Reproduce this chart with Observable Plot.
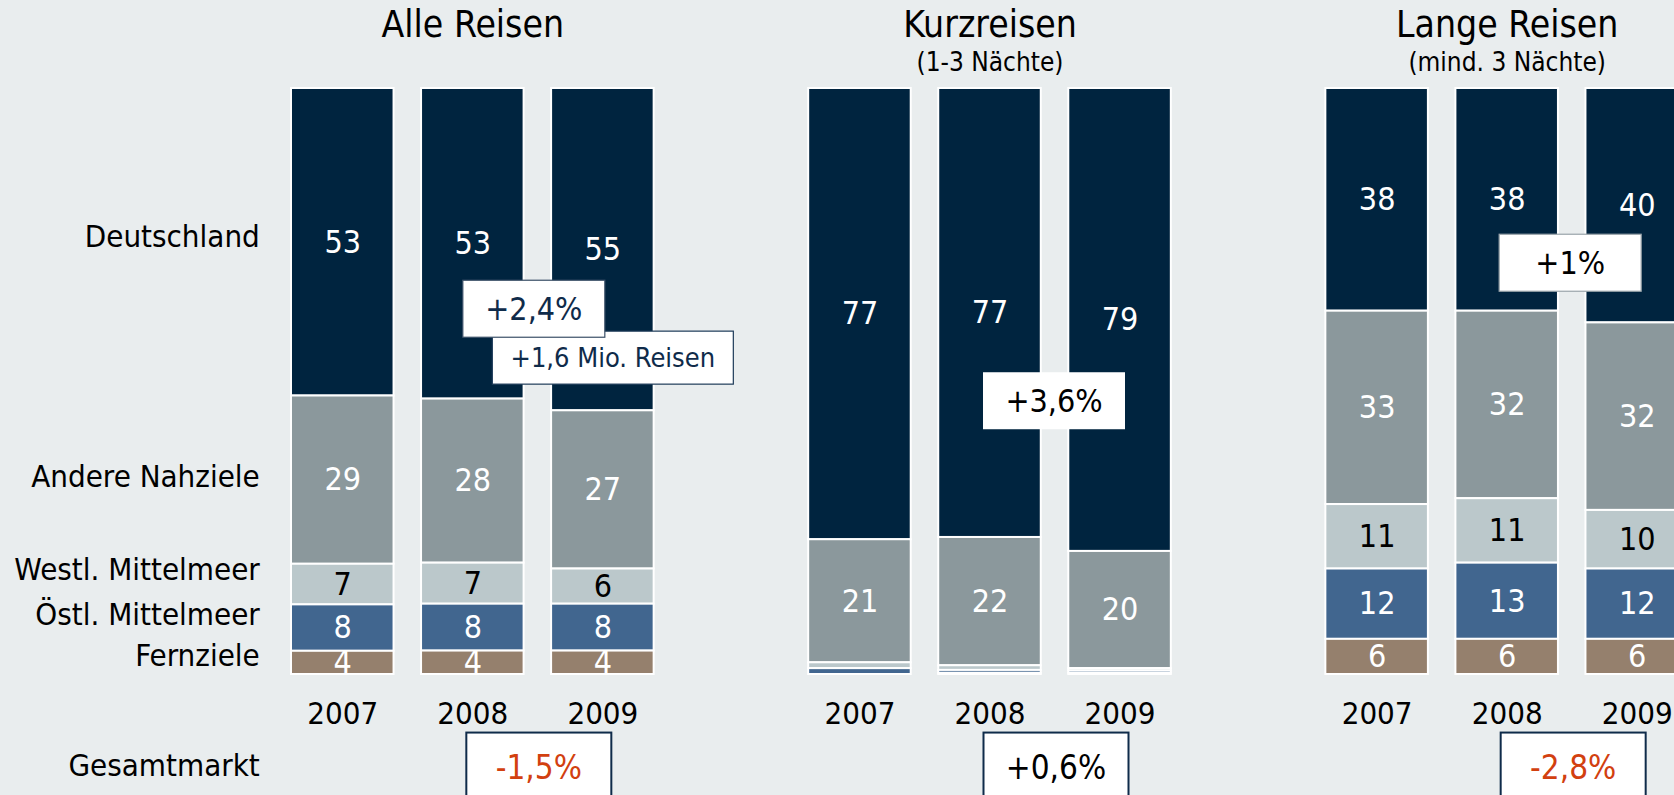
<!DOCTYPE html>
<html>
<head>
<meta charset="utf-8">
<script src="https://cdn.jsdelivr.net/npm/d3@7"></script>
<script src="https://cdn.jsdelivr.net/npm/@observablehq/plot@0.6"></script>
<style>
  html, body { margin: 0; padding: 0; background: #E9EDEE; overflow: hidden; }
  #chart { width: 1674px; height: 795px; overflow: hidden; }
  #chart svg { display: block; max-width: none !important; }
</style>
</head>
<body>
<div id="chart"></div>
<script>
// ---------- data ----------
const panels = ["Alle Reisen", "Kurzreisen", "Lange Reisen"];
const panelSubtitles = ["", "(1-3 Nächte)", "(mind. 3 Nächte)"];
const years = ["2007", "2008", "2009"];
const categories = ["Deutschland", "Andere Nahziele", "Westl. Mittelmeer", "Östl. Mittelmeer", "Fernziele"];

// rows = categories, columns = years (shares in %)
const alleReisen   = [[53, 53, 55], [29, 28, 27], [7, 7, 6], [8, 8, 8], [4, 4, 4]];
const kurzReisen   = [[77, 77, 79], [21, 22, 20], [1, 0.8, 0.4], [1, 0.5, 0.4], [0, 0.2, 0.2]];
const langeReisen  = [[38, 38, 40], [33, 32, 32], [11, 11, 10], [12, 13, 12], [6, 6, 6]];
const panelValues = [alleReisen, kurzReisen, langeReisen];

const deutschlandChange = ["+2,4%", "+3,6%", "+1%"];
const deutschlandExtra = ["+1,6 Mio. Reisen", "", ""];
const gesamtmarktLabel = "Gesamtmarkt";
const gesamtmarktChange = ["-1,5%", "+0,6%", "-2,8%"];

// ---------- styles / layout ----------
const FONT = '"DejaVu Sans Condensed", "DejaVu Sans", sans-serif';
const colors = ["#00243F", "#8B989C", "#BBC8CB", "#41668F", "#95806D"];
const NAVY = "#0F2B4A";
const RED = "#D2400F";
const stackOrder = categories.slice().reverse(); // bottom -> top
const categoryLabelDy = [-5, -3, -14, -13, -7];

const table = [];
panels.forEach((p, pi) => categories.forEach((c, ci) => years.forEach((y, yi) =>
  table.push({panel: p, category: c, year: y, value: panelValues[pi][ci][yi]}))));

const stackOpts = {offset: "normalize", order: stackOrder};

const annots = [];
panels.forEach((p, i) => {
  annots.push({panel: p, text: deutschlandChange[i], kind: "de",
    color: i === 0 ? NAVY : "black", border: i === 0 ? "#3B5068" : (i === 2 ? "#9aa4aa" : "none"),
    dy: [221, 313, 175][i], dx: [61, 64, 63][i], w: 142, h: 57, fs: 32});
  if (deutschlandExtra[i]) annots.push({panel: p, text: deutschlandExtra[i], kind: "extra",
    color: NAVY, border: "#1D3A58", dy: 270, dx: 140, w: 241, h: 53, fs: 27});
  annots.push({panel: p, text: gesamtmarktChange[i], kind: "total",
    color: gesamtmarktChange[i].startsWith("-") ? RED : "black", border: "#0F2B4A", bw: 2,
    dy: 680, dx: 66, w: 145, h: 70, fs: 33});
});
// draw order: extra box first so the "+2,4%" box overlaps it
annots.sort((a, b) => (a.kind === "extra" ? -1 : 0) - (b.kind === "extra" ? -1 : 0));

const marks = [
  Plot.barY(table, Plot.stackY(stackOpts, {
    fx: "panel", x: "year", y: "value", fill: "category", stroke: "white", strokeWidth: 2
  })),
  Plot.text(table, Plot.stackY(stackOpts, {
    fx: "panel", x: "year", y: "value", z: "category",
    text: d => (d.value >= 3 && d.category !== "Westl. Mittelmeer") ? String(d.value) : null,
    fill: "white", fontSize: 32
  })),
  Plot.text(table, Plot.stackY(stackOpts, {
    fx: "panel", x: "year", y: "value", z: "category",
    text: d => (d.value >= 3 && d.category === "Westl. Mittelmeer") ? String(d.value) : null,
    fill: "black", fontSize: 32
  })),
  ...categories.map((c, ci) => Plot.text(table, Plot.stackY(stackOpts, {
    fx: "panel", x: "year", y: "value", z: "category",
    text: d => (d.panel === panels[0] && d.year === years[0] && d.category === c) ? d.category : null,
    textAnchor: "end", dx: -83, dy: categoryLabelDy[ci], fill: "black", fontSize: 31
  }))),
  Plot.text([gesamtmarktLabel], {
    fx: () => panels[0], x: () => years[0], text: d => d,
    frameAnchor: "top", lineAnchor: "middle", dy: 678, dx: -83, textAnchor: "end", fill: "black", fontSize: 31
  }),
  Plot.text(panels, {fx: d => d, text: d => d, frameAnchor: "top", lineAnchor: "middle",
    dy: -63, fontSize: 37, fill: "black"}),
  Plot.text(panels.map((p, i) => ({panel: p, sub: panelSubtitles[i]})), {
    fx: "panel", text: d => d.sub || null, frameAnchor: "top", lineAnchor: "middle",
    dy: -26, fontSize: 26, fill: "black"
  }),
  ...annots.map((a, i) => Plot.text([a], {
    fx: "panel", x: () => years[1], text: "text", frameAnchor: "top", lineAnchor: "middle",
    dx: a.dx, dy: a.dy, fill: a.color, fontSize: a.fs, ariaDescription: "annot-" + i
  }))
];

const chart = Plot.plot({
  width: 1690, height: 795,
  marginTop: 88, marginBottom: 121, marginLeft: 291, marginRight: 2,
  style: {background: "transparent", fontFamily: FONT, fontSize: "31px", color: "black", maxWidth: "none"},
  fx: {domain: panels, paddingInner: 0.2988, paddingOuter: 0, round: false, axis: null, label: null},
  x: {domain: years, paddingInner: 0.2115, paddingOuter: 0, round: false, label: null, tickSize: 0, tickPadding: 27},
  y: {domain: [0, 1], axis: null},
  color: {domain: categories, range: colors},
  marks
});

document.getElementById("chart").appendChild(chart);

// white boxes behind annotation texts
const svgNS = "http://www.w3.org/2000/svg";
annots.forEach((a, i) => {
  chart.querySelectorAll(`g[aria-description="annot-${i}"] text`).forEach(t => {
    const bb = t.getBBox();
    const r = document.createElementNS(svgNS, "rect");
    const cx = bb.x + bb.width / 2, cy = bb.y + bb.height / 2;
    r.setAttribute("x", cx - a.w / 2);
    r.setAttribute("y", cy - a.h / 2);
    r.setAttribute("width", a.w);
    r.setAttribute("height", a.h);
    r.setAttribute("fill", "white");
    if (a.border !== "none") {
      r.setAttribute("stroke", a.border);
      r.setAttribute("stroke-width", a.bw || 1.2);
    }
    if (t.getAttribute("transform")) r.setAttribute("transform", t.getAttribute("transform"));
    t.parentNode.insertBefore(r, t);
  });
});
</script>
</body>
</html>
